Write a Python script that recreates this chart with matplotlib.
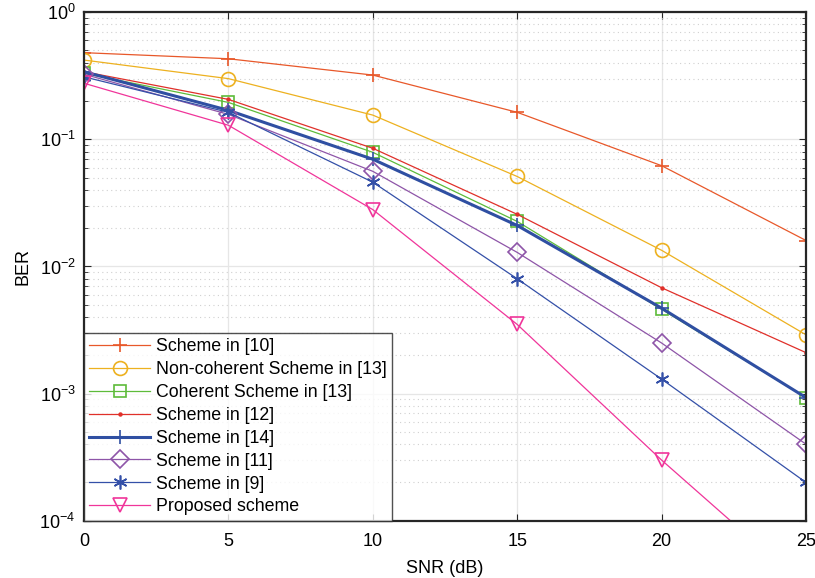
import matplotlib
matplotlib.use("Agg")
import matplotlib.pyplot as plt
import numpy as np

plt.rcParams['font.family'] = ['Liberation Sans', 'DejaVu Sans']

snr = [0, 5, 10, 15, 20, 25]
labels = ["Scheme in [10]", "Non-coherent Scheme in [13]", "Coherent Scheme in [13]",
          "Scheme in [12]", "Scheme in [14]", "Scheme in [11]", "Scheme in [9]", "Proposed scheme"]
ber_10 = [0.48, 0.43, 0.32, 0.163, 0.062, 0.016]
ber_13nc = [0.42, 0.30, 0.155, 0.051, 0.0134, 0.0029]
ber_13c = [0.33, 0.195, 0.079, 0.0226, 0.0046, 0.00093]
ber_12 = [0.34, 0.206, 0.085, 0.0257, 0.0068, 0.0021]
ber_14 = [0.34, 0.169, 0.0697, 0.021, 0.0047, 0.00093]
ber_11 = [0.325, 0.157, 0.056, 0.0129, 0.0025, 0.0004]
ber_9 = [0.31, 0.163, 0.046, 0.008, 0.0013, 0.0002]
ber_prop = [0.276, 0.129, 0.028, 0.0035, 0.0003, 0.00003]

series = [ber_10, ber_13nc, ber_13c, ber_12, ber_14, ber_11, ber_9, ber_prop]
colors = ['#E8582A', '#EDB120', '#5DBB3A', '#E0302A', '#2F4FA2', '#8E55A8', '#3450A8', '#F0359A']
markers = ['+', 'o', 's', '.', '+', 'D', (6, 2, 0), 'v']
msizes = [10, 10, 8, 4, 10, 9, 10, 10]
lws = [0.9, 0.9, 0.9, 0.9, 2.2, 0.9, 0.9, 0.9]

fig = plt.figure(figsize=(8.15, 5.78), dpi=100)
ax = fig.add_axes([0.103, 0.099, 0.886, 0.880])

for y, lab, c, m, ms, lw in zip(series, labels, colors, markers, msizes, lws):
    mfc = 'none' if m in ('o', 's', 'D', 'v') else c
    ax.semilogy(snr, y, color=c, marker=m, markersize=ms, linewidth=lw,
                markerfacecolor=mfc, markeredgecolor=c, markeredgewidth=1.2, label=lab)

ax.set_xlim(0, 25)
ax.set_ylim(1e-4, 1)
ax.set_xticks([0, 5, 10, 15, 20, 25])
ax.grid(True, which='major', color='#e6e6e6', linewidth=0.9, linestyle='-')
ax.grid(True, which='minor', axis='y', color='#d0d0d0', linewidth=0.8, linestyle=(0, (1, 3)))
ax.set_axisbelow(True)
ax.tick_params(which='both', direction='in', top=True, right=True, labelsize=13, color='#262626')
ax.tick_params(axis='x', which='major', pad=9)
ax.tick_params(axis='y', which='major', pad=6)
ax.tick_params(which='major', length=5)
ax.tick_params(which='minor', length=3)
for s in ax.spines.values():
    s.set_linewidth(1.6)
    s.set_color('#262626')
ax.set_xlabel("SNR (dB)", fontsize=13, labelpad=7)
ax.set_ylabel("BER", fontsize=13, labelpad=6)

leg = ax.legend(loc='lower left', fontsize=12.8, borderaxespad=0, frameon=True, fancybox=False,
                edgecolor='#262626', handlelength=3.4, labelspacing=0.33, borderpad=0.3,
                handletextpad=0.35)
leg.get_frame().set_linewidth(1.0)

fig.savefig("out.png", dpi=100)
